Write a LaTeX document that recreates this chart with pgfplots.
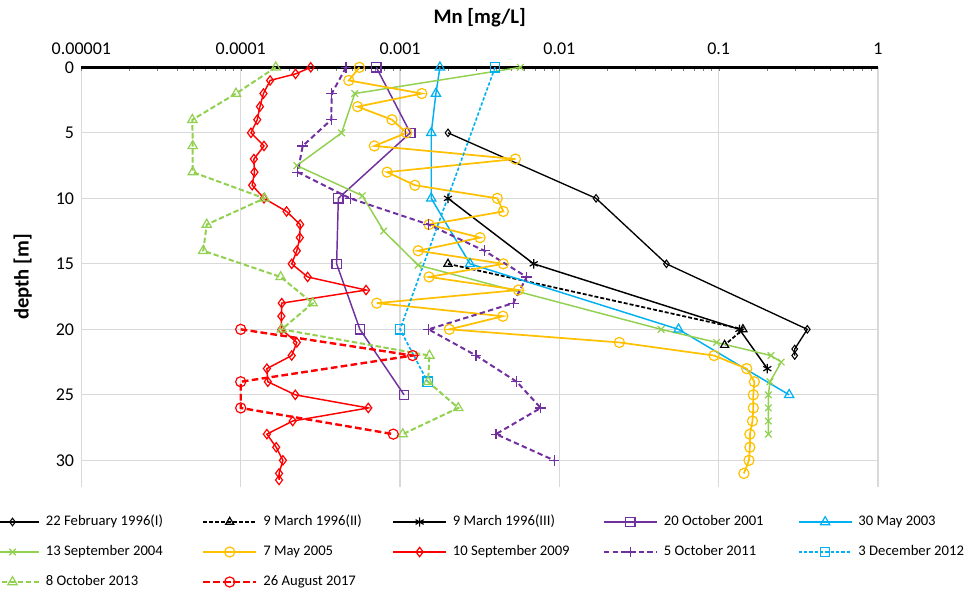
\documentclass[border=0pt]{standalone}
\usepackage{fontspec}
\setmainfont{Carlito}
\usepackage{pgfplots}
\pgfplotsset{compat=1.18}
\definecolor{cpurple}{HTML}{7030A0}
\definecolor{ccyan}{HTML}{00B0F0}
\definecolor{cgreen}{HTML}{92D050}
\definecolor{corange}{HTML}{FFC000}
\definecolor{cred}{HTML}{FF0000}
\definecolor{gridgray}{HTML}{D9D9D9}
\begin{document}
\begin{tikzpicture}
\useasboundingbox (0,0) rectangle (733.5pt,445.5pt);
\begin{axis}[
  at={(61.05pt,80.6pt)}, anchor=south west,
  scale only axis, width=597.45pt, height=314.4pt,
  xmode=log, xmin=1e-5, xmax=1,
  ymin=0, ymax=32, y dir=reverse,
  axis x line*=top, axis y line*=left,
  x axis line style={line width=2pt, -},
  y axis line style={draw=none},
  xtick={1e-5,1e-4,1e-3,1e-2,1e-1,1},
  xticklabels={0.00001,0.0001,0.001,0.01,0.1,1},
  minor xtick={},
  ytick={0,5,...,30},
  major tick length=0pt,
  grid=major, major grid style={gridgray, line width=0.8pt},
  tick label style={font=\fontsize{13.5}{16}\selectfont},
  xticklabel style={yshift=6pt},
  yticklabel style={xshift=-2pt},
  /pgf/number format/assume math mode=true,
  xlabel={Mn [mg/L]}, ylabel={depth [m]},
  label style={font=\fontsize{15.5}{18}\selectfont\bfseries},
  xlabel style={at={(axis description cs:0.5,1.1177)}, anchor=center},
  ylabel style={at={(axis description cs:-0.0736,0.5)}, anchor=center},
  clip=false,
  legend columns=5, legend cell align=left,
  legend image code/.code={\draw[mark repeat=2,mark phase=2] plot coordinates {(0pt,0pt) (19.875pt,0pt) (39.75pt,0pt)};},
  legend style={at={(axis description cs:-0.1210,-0.0679)}, anchor=north west,
    draw=none, fill=none, inner sep=0pt, outer sep=0pt, row sep=12pt, column sep=0pt,
    font=\fontsize{11}{13}\selectfont,
    nodes={inner sep=0pt, text height=8pt, text depth=2.5pt},
    /tikz/every odd column/.style={column sep=4.5pt}},
]
% 22 February 1996(I)
\addplot[black, line width=1pt, mark=diamond, mark size=2.8pt, mark options={solid, line width=0.8pt}] coordinates {
(0.002,5)(0.017,10)(0.047,15)(0.36,20)(0.30,21.5)(0.30,22)};
\addlegendentry{\makebox[117pt][l]{22 February 1996(I)}}
% 9 March 1996(II)
\addplot[black, line width=1.3pt, dash pattern=on 3pt off 1.5pt, mark=triangle, mark size=3.5pt, mark options={solid, line width=0.9pt}] coordinates {
(0.002,15)(0.142,20)(0.109,21.2)};
\addlegendentry{\makebox[96.75pt][l]{9 March 1996(II)}}
% 9 March 1996(III)
\addplot[black, line width=1.1pt, mark=asterisk, mark size=3.5pt, mark options={solid, line width=0.9pt}] coordinates {
(0.002,10)(0.0069,15)(0.135,20)(0.202,23)};
\addlegendentry{\makebox[112.5pt][l]{9 March 1996(III)}}
% 20 October 2001
\addplot[cpurple, line width=1.1pt, mark=square, mark size=3.5pt, mark options={solid, line width=0.9pt}] coordinates {
(0.00071,0)(0.00116,5)(0.00041,10)(0.0004,15)(0.00056,20)(0.00106,25)};
\addlegendentry{\makebox[100.5pt][l]{20 October 2001}}
% 30 May 2003
\addplot[ccyan, line width=1.1pt, mark=triangle, mark size=4pt, mark options={solid, line width=0.9pt}] coordinates {
(0.00178,0)(0.00168,2)(0.00157,5)(0.00157,10)(0.00275,15)(0.056,20)(0.277,25)};
\addlegendentry{\makebox[90pt][l]{30 May 2003}}
% 13 September 2004
\addplot[cgreen, line width=1.1pt, mark=x, mark size=3.5pt, mark options={solid, line width=0.9pt}] coordinates {
(0.0057,0)(0.00052,2)(0.00043,5)(0.000225,7.5)(0.00058,9.8)(0.00079,12.5)(0.0013,15.1)(0.0435,20)(0.097,21)(0.213,22)(0.247,22.5)(0.21,24)(0.205,25)(0.205,26)(0.205,27)(0.205,28)};
\addlegendentry{\makebox[117pt][l]{13 September 2004}}
% 7 May 2005
\addplot[corange, line width=1.3pt, mark=o, mark size=3.8pt, mark options={solid, line width=0.9pt}] coordinates {
(0.000556,0)(0.000477,1)(0.00137,2)(0.000542,3)(0.00089,4)(0.0011,5)(0.00069,6)(0.0053,7)(0.00083,8)(0.00124,9)(0.00408,10)(0.00445,11)(0.00152,12)(0.00318,13)(0.0013,14)(0.00445,15)(0.00152,16)(0.00553,17)(0.000714,18)(0.00442,19)(0.00204,20)(0.0238,21)(0.0935,22)(0.150,23)(0.1675,24)(0.165,25)(0.165,26)(0.163,27)(0.157,28)(0.157,29)(0.155,30)(0.144,31)};
\addlegendentry{\makebox[96.75pt][l]{7 May 2005}}
% 10 September 2009
\addplot[cred, line width=1.1pt, mark=diamond, mark size=3.5pt, mark options={solid, line width=0.9pt}] coordinates {
(0.000275,0)(0.000221,0.5)(0.000153,1)(0.000139,2)(0.000132,3)(0.000127,4)(0.000116,5)(0.00014,6)(0.000121,7)(0.000122,8)(0.000118,9)(0.00014,10)(0.000194,11)(0.000236,12)(0.000235,13)(0.000225,14)(0.000209,15)(0.000263,16)(0.000612,17)(0.000181,18)(0.00018,19)(0.00018,20)(0.000225,21)(0.000209,22)(0.000146,23)(0.000148,24)(0.00022,25)(0.000632,26)(0.000212,27)(0.000146,28)(0.000167,29)(0.000184,30)(0.000174,31)(0.000174,31.5)};
\addlegendentry{\makebox[112.5pt][l]{10 September 2009}}
% 5 October 2011
\addplot[cpurple, line width=1.5pt, dash pattern=on 4pt off 2.5pt, mark=+, mark size=4pt, mark options={solid, line width=0.9pt}] coordinates {
(0.000458,0)(0.000373,2)(0.00037,4)(0.000245,6)(0.000228,8)(0.000486,10)(0.00151,12)(0.00338,14)(0.00624,16)(0.00514,18)(0.00151,20)(0.0030,22)(0.0054,24)(0.00764,26)(0.0040,28)(0.00927,30)};
\addlegendentry{\makebox[100.5pt][l]{5 October 2011}}
% 3 December 2012
\addplot[ccyan, line width=1.2pt, dash pattern=on 2.5pt off 1.5pt, mark=square, mark size=3.5pt, mark options={solid, line width=0.9pt}] coordinates {
(0.00395,0)(0.001,20)(0.00149,24)};
\addlegendentry{\makebox[90pt][l]{3 December 2012}}
% 8 October 2013
\addplot[cgreen, line width=1.5pt, dash pattern=on 4pt off 2pt, mark=triangle, mark size=4pt, mark options={solid, line width=0.9pt}] coordinates {
(0.000166,0)(0.0000934,2)(0.0000497,4)(0.00005,6)(0.00005,8)(0.000141,10)(0.0000612,12)(0.0000582,14)(0.000178,16)(0.000283,18)(0.000181,20)(0.00153,22)(0.0015,24)(0.00232,26)(0.00104,28)};
\addlegendentry{\makebox[117pt][l]{8 October 2013}}
% 26 August 2017
\addplot[cred, line width=1.8pt, dash pattern=on 5pt off 2.5pt, mark=o, mark size=3.8pt, mark options={solid, line width=0.9pt}] coordinates {
(0.0001,20)(0.0012,22)(0.0001,24)(0.0001,26)(0.000907,28)};
\addlegendentry{\makebox[96.75pt][l]{26 August 2017}}
\end{axis}
\end{tikzpicture}
\end{document}
